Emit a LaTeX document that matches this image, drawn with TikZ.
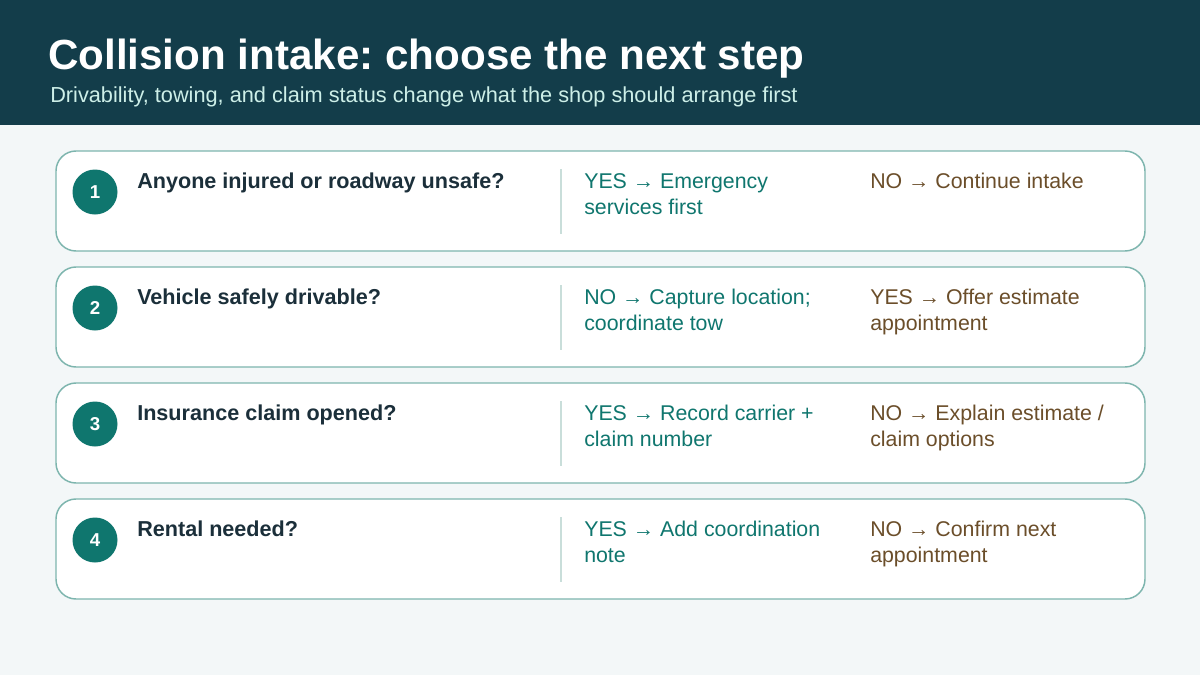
\documentclass[tikz,border=0pt]{standalone}
\usepackage{fontspec}
\setmainfont{Liberation Sans}
\usepackage{xcolor}
\usepackage{tikz}
\frenchspacing

\definecolor{headbg}{RGB}{19,61,74}
\definecolor{subtxt}{RGB}{205,239,232}
\definecolor{pagebg}{RGB}{243,247,248}
\definecolor{cardline}{RGB}{125,181,174}
\definecolor{stepfill}{RGB}{15,118,110}
\definecolor{asktxt}{RGB}{27,47,58}
\definecolor{yestxt}{RGB}{15,118,110}
\definecolor{notxt}{RGB}{107,78,42}
\definecolor{divline}{RGB}{201,222,218}

\tikzset{
  card/.style={draw=cardline, line width=1.1pt, fill=white, rounded corners=15pt,
    minimum width=816.75pt, minimum height=75pt, inner sep=0pt},
  stepdot/.style={circle, fill=stepfill, minimum size=33.75pt, inner sep=0pt,
    text=white, font=\fontsize{14pt}{16pt}\selectfont\bfseries},
  ask/.style={anchor=base west, inner sep=0pt, text=asktxt,
    font=\fontsize{16.2pt}{19.5pt}\selectfont\bfseries},
  yesans/.style={anchor=base west, inner sep=0pt, text=yestxt, align=left,
    font=\fontsize{16pt}{19.5pt}\selectfont},
  noans/.style={anchor=base west, inner sep=0pt, text=notxt, align=left,
    font=\fontsize{16pt}{19.5pt}\selectfont},
  divider/.style={draw=divline, line width=1.1pt}
}

\begin{document}
\begin{tikzpicture}[x=0.75pt,y=0.75pt,yscale=-1,xscale=1]
\useasboundingbox (0,0) rectangle (1200,675);

%Background
\fill [pagebg] (0,0) rectangle (1200,675);
%Header band
\fill [headbg] (0,0) rectangle (1200,125);

% Title
\node (title) at (48,69) [anchor=base west, inner sep=0pt, text=white, font=\fontsize{31.6pt}{36pt}\selectfont\bfseries] {Collision intake: choose the next step};
% Subtitle
\node (subtitle) at (50,102) [anchor=base west, inner sep=0pt, text=subtxt, font=\fontsize{16.3pt}{19pt}\selectfont] {Drivability, towing, and claim status change what the shop should arrange first};

%Card 1 (two-line answers sit on the baseline of their last line)
\node (card1) at (600.5,201) [card] {};
\node (step1) at (95,192) [stepdot] {1};
\node (ask1) at (137,188) [ask] {Anyone injured or roadway unsafe?};
\draw [divider] (561,169) -- (561,234);
\node (yes1) at (584,214) [yesans] {YES → Emergency\\services first};
\node (no1) at (870,188) [noans] {NO → Continue intake};

%Card 2
\node (card2) at (600.5,317) [card] {};
\node (step2) at (95,308) [stepdot] {2};
\node (ask2) at (137,304) [ask] {Vehicle safely drivable?};
\draw [divider] (561,285) -- (561,350);
\node (yes2) at (584,330) [yesans] {NO → Capture location;\\coordinate tow};
\node (no2) at (870,330) [noans] {YES → Offer estimate\\appointment};

%Card 3
\node (card3) at (600.5,433) [card] {};
\node (step3) at (95,424) [stepdot] {3};
\node (ask3) at (137,420) [ask] {Insurance claim opened?};
\draw [divider] (561,401) -- (561,466);
\node (yes3) at (584,446) [yesans] {YES → Record carrier +\\claim number};
\node (no3) at (870,446) [noans] {NO → Explain estimate /\\claim options};

%Card 4
\node (card4) at (600.5,549) [card] {};
\node (step4) at (95,540) [stepdot] {4};
\node (ask4) at (137,536) [ask] {Rental needed?};
\draw [divider] (561,517) -- (561,582);
\node (yes4) at (584,562) [yesans] {YES → Add coordination\\note};
\node (no4) at (870,562) [noans] {NO → Confirm next\\appointment};
\end{tikzpicture}
\end{document}
